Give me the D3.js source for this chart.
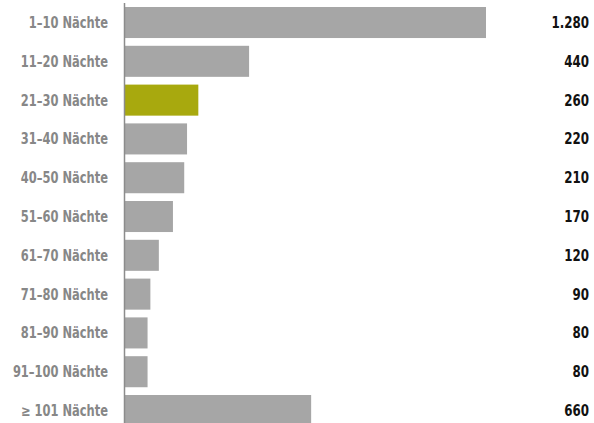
<!DOCTYPE html>
<html><head><meta charset="utf-8">
<script src="https://cdn.jsdelivr.net/npm/d3@7"></script>
<style>
body{margin:0;background:#fff;}
text{font-family:"Liberation Sans Narrow","Arial Narrow","DejaVu Sans Condensed",sans-serif;font-weight:bold;}
</style></head>
<body><svg id="c" width="594" height="423"></svg>
<script>
const categories = ["1–10 Nächte","11–20 Nächte","21–30 Nächte","31–40 Nächte","40–50 Nächte","51–60 Nächte","61–70 Nächte","71–80 Nächte","81–90 Nächte","91–100 Nächte","≥ 101 Nächte"];
const values = [1280,440,260,220,210,170,120,90,80,80,660];
const valueLabels = ["1.280","440","260","220","210","170","120","90","80","80","660"];
const highlight = "21–30 Nächte";

const svg = d3.select("#c");
const x0 = 125;
const x = d3.scaleLinear().domain([0,1280]).range([x0, 486]);
const step = 38.8;
const y = d3.scaleBand().domain(categories).range([7 - step*0.1, 7 - step*0.1 + step*categories.length]).paddingInner(0.2).paddingOuter(0.1);

svg.selectAll("rect.bar").data(categories).enter().append("rect")
  .attr("class","bar")
  .attr("x", x0)
  .attr("y", d => y(d))
  .attr("width", (d,i) => x(values[i]) - x0)
  .attr("height", y.bandwidth())
  .attr("fill", d => d === highlight ? "#a8a90e" : "#a6a6a6");

svg.append("line").attr("x1",124.5).attr("x2",124.5).attr("y1",3).attr("y2",423)
  .attr("stroke","#8c8c8c").attr("stroke-width",1.5);

svg.selectAll("text.cat").data(categories).enter().append("text")
  .attr("class","cat")
  .attr("transform", d => `translate(108,${y(d) + y.bandwidth()/2}) scale(0.85,1)`)
  .attr("dy","0.36em").attr("text-anchor","end")
  .attr("fill","#878787").attr("font-size",15)
  .text(d => d);

svg.selectAll("text.val").data(categories).enter().append("text")
  .attr("class","val")
  .attr("transform", d => `translate(589,${y(d) + y.bandwidth()/2}) scale(0.88,1)`)
  .attr("dy","0.36em").attr("text-anchor","end")
  .attr("fill","#111").attr("font-size",15)
  .text((d,i) => valueLabels[i]);
</script></body></html>
